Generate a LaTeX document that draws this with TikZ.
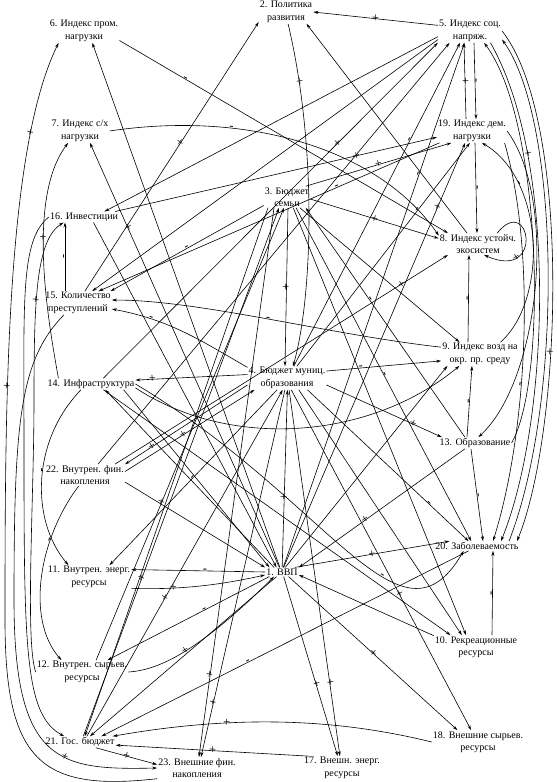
\documentclass[tikz,border=0pt]{standalone}
\usepackage{fontspec}
\setmainfont{Liberation Serif}
\usetikzlibrary{arrows.meta}
\begin{document}
\begin{tikzpicture}[x=1pt,y=-1pt,
  nd/.style={align=center,inner sep=1pt,font=\fontsize{10}{12.5}\selectfont},
  e/.style={-{Stealth[length=5pt,width=3pt]},line width=0.6pt},
  l/.style={font=\fontsize{12.5}{12.5}\selectfont,inner sep=0pt,sloped}]
\useasboundingbox[fill=white] (0,0) rectangle (557,782);
% nodes
\node[nd] (n1) at (282,572) {1. ВВП};
\node[nd] (n2) at (286,12) {2. Политика\\развития};
\node[nd] (n3) at (287,197) {3. Бюджет\\семьи};
\node[nd] (n4) at (287,378) {4. Бюджет муниц.\\образования};
\node[nd] (n5) at (470,31) {5. Индекс соц.\\напряж.};
\node[nd] (n6) at (84,31) {6. Индекс пром.\\нагрузки};
\node[nd] (n7) at (80,131) {7. Индекс с/х\\нагрузки};
\node[nd] (n8) at (478,244) {8. Индекс устойч.\\экосистем};
\node[nd] (n9) at (480,354) {9. Индекс возд на\\окр. пр. среду};
\node[nd] (n10) at (476,647) {10. Рекреационные\\ресурсы};
\node[nd] (n11) at (89,577) {11. Внутрен. энерг.\\ресурсы};
\node[nd] (n12) at (82,672) {12. Внутрен. сырьев.\\ресурсы};
\node[nd] (n13) at (475,443) {13. Образование};
\node[nd] (n14) at (91,384) {14. Инфраструктура};
\node[nd] (n15) at (78,303) {15. Количество\\преступлений};
\node[nd] (n16) at (84,217) {16. Инвестиции};
\node[nd] (n17) at (342,768) {17. Внешн. энерг.\\ресурсы};
\node[nd] (n18) at (478,742) {18. Внешние сырьев.\\ресурсы};
\node[nd] (n19) at (472,131) {19. Индекс дем.\\нагрузки};
\node[nd] (n20) at (477,546) {20. Заболеваемость};
\node[nd] (n21) at (80,742) {21. Гос. бюджет};
\node[nd] (n22) at (85,475) {22. Внутрен. фин.\\накопления};
\node[nd] (n23) at (197,768) {23. Внешние фин.\\накопления};

% top region
\draw[e] (n5.170) -- node[l]{+} (n2.east);
\draw[e] (n15.60) -- node[l,pos=.55]{+} (n2.-160);
\draw[e] (n8.135) -- (n2.-30);
\draw[e] (n2.-80) .. controls (318,150) and (312,300) .. node[l,pos=.15]{+} ([xshift=6pt]n4.north);
\draw[e] (n6.-15) -- node[l,pos=.2]{-} (n8.160);
\draw[e] (n7.east) .. controls (250,110) and (380,150) .. node[l,pos=.3]{-} (n8.168);
\draw[e] (n1.115) -- (n6.-55);
\draw[e] (n1.120) -- node[l,pos=.8]{+} (n7.-50);

% vertical links on the right
\draw[e] ([xshift=4pt]n5.south) -- node[l]{-} ([xshift=4pt]n19.north);
\draw[e] ([xshift=-6pt]n19.north) -- node[l]{+} ([xshift=-6pt]n5.south);
\draw[e] ([xshift=3pt]n19.south) -- node[l]{-} ([xshift=-1pt]n8.north);
\draw[e] ([xshift=-12pt]n9.north) -- node[l]{-} ([xshift=-9pt]n8.south);
\draw[e] ([xshift=-8pt]n13.north) -- node[l]{-} ([xshift=-8pt]n9.south);
\draw[e] ([xshift=-4pt]n13.south) -- node[l]{-} ([xshift=6pt]n20.north);
\draw[e] ([xshift=16pt]n10.north) -- node[l]{-} ([xshift=16pt]n20.south);
\draw[e] ([xshift=-20pt]n8.north east) .. controls (530,192) and (545,282) .. node[l,pos=.75]{+} ([xshift=6pt]n8.south);

% right-side curves
\draw[e] (n13.east) .. controls (548,380) and (542,120) .. (n5.-40);
\draw[e] (n5.-30) .. controls (558,160) and (550,420) .. node[l,pos=.25]{+} ([xshift=24pt]n20.north);
\draw[e] ([xshift=32pt]n20.north) .. controls (564,400) and (560,120) .. (n5.-15);
\draw[e] (n5.east) .. controls (572,120) and (562,430) .. node[l,pos=.62]{+} ([xshift=40pt]n20.north);
\draw[e] (n19.-20) .. controls (536,250) and (528,430) .. node[l,pos=.6]{-} ([xshift=16pt]n20.north);
\draw[e] (n9.30) .. controls (548,300) and (545,180) .. node[l,pos=.75]{-} (n19.-50);
\draw[e] (n19.east) .. controls (558,200) and (540,380) .. (n13.60);

% lines at 5 from the lower left
\draw[e] (n5.-170) -- (n16.15);
\draw[e] (n5.-165) -- (n15.40);
\draw[e] (n14.25) -- node[l,pos=.7]{+} (n5.-160);
\draw[e] (n22.40) -- (n5.-150);
\draw[e] (n4.60) -- node[l,pos=.7]{-} (n5.-130);
\draw[e] (n1.75) -- node[l,pos=.75]{-} (n5.-115);

% lines at 19
\draw[e] (n16.10) -- node[l,pos=.75]{+} (n19.190);
\draw[e] (n19.200) -- node[l,pos=.3]{-} (n15.30);
\draw[e] (n3.30) -- node[l,pos=.5]{+} (n19.210);
\draw[e] (n1.70) -- node[l,pos=.85]{+} (n19.-120);
\draw[e] (n4.50) -- node[l,pos=.7]{-} (n19.-100);

% lines at 3
\draw[e] (n3.-160) -- node[l,pos=.5]{-} (n15.20);
\draw[e] (n3.-5) -- node[l]{+} (n8.172);
\draw[e] ([xshift=1pt]n3.south) -- node[l]{+} ([xshift=-2pt]n4.north);
\draw[e] (n3.-40) -- (n9.150);
\draw[e] (n13.150) -- node[l,pos=.6]{-} (n3.-30);
\draw[e] (n3.-50) -- node[l,pos=.5]{-} (n20.140);
\draw[e] (n3.-60) -- (n10.130);
\draw[e] ([xshift=-19pt]n3.south) -- (n21.50);
\draw[e] ([xshift=-13pt]n3.south) -- node[l,pos=.85]{+} (n23.80);
\draw[e] (n21.60) -- node[l,pos=.3]{+} ([xshift=-8pt]n3.south);
\draw[e] (n12.40) -- node[l,pos=.35]{+} ([xshift=-3pt]n3.south);

% lines at 4
\draw[e] (n4.-170) -- node[l,pos=.78]{+} (n22.15);
\draw[e] (n22.5) -- node[l,pos=.45]{+} (n4.-160);
\draw[e] (n4.175) -- node[l,pos=.85]{+} (n14.5);
\draw[e] (n4.165) .. controls (200,340) and (170,320) .. node[l,pos=.75]{-} (n15.-10);
\draw[e] (n9.170) .. controls (330,335) and (200,300) .. node[l,pos=.5]{-} (n15.5);
\draw[e] (n4.10) -- node[l,pos=.3]{-} (n9.190);
\draw[e] (n4.-10) -- node[l,pos=.75]{+} (n13.170);
\draw[e] (n4.-30) -- node[l,pos=.75]{-} (n20.150);
\draw[e] (n4.-45) -- (n10.140);
\draw[e] (n1.88) -- node[l,pos=.4]{+} (n4.-88);
\draw[e] (n4.-130) -- node[l,pos=.5]{-} (n11.30);
\draw[e] (n21.40) -- node[l,pos=.4]{+} (n4.-110);
\draw[e] (n4.-100) -- node[l,pos=.85]{+} (n23.70);
\draw[e] (n4.-70) -- node[l,pos=.6]{+} (n18.120);
\draw[e] (n4.-80) -- node[l,pos=.8]{+} (n17.100);

% lines at 14
\draw[e] (n14.-10) -- (n1.160);
\draw[e] (n1.150) -- (n14.-22);
\draw[e] (n14.east) .. controls (330,500) and (400,660) .. node[l,pos=.62]{-} (n20.-160);
\draw[e] (n14.-5) .. controls (230,450) and (370,440) .. (n9.-150);
\draw[e] (n14.-25) -- (n10.155);
\draw[e] (n14.-150) .. controls (32,440) and (30,520) .. node[l,pos=.45]{-} (n11.150);

% lines at 22 and 16
\draw[e] (n22.-10) -- (n1.165);
\draw[e] (n22.-120) .. controls (38,540) and (26,620) .. node[l,pos=.3]{-} (n12.150);
\draw[e] (n22.20) -- node[l,pos=.86]{+} (n8.-160);
\draw[e] (n16.-30) -- (n1.140);
\draw[e] ([xshift=-13pt]n15.north) -- node[l]{-} ([xshift=-19pt]n16.south);

% left curves
\draw[e] (n23.-165) .. controls (40,792) and (5,760) .. (5,620)
   .. controls (5,400) and (6,150) .. node[l,pos=.35]{+} node[l,pos=.78]{+} (n6.-155);
\draw[e] (n15.-140) .. controls (20,360) and (14,420) .. (14,600)
   .. controls (14,765) and (60,770) .. node[l,pos=.6]{+} (n23.west);
\draw[e] (n16.west) .. controls (20,240) and (24,300) .. (24,450)
   .. controls (24,650) and (25,715) .. (n21.160);
\draw[e] (n12.west) .. controls (25,640) and (34,500) .. (34,400)
   .. controls (34,300) and (36,240) .. node[l,pos=.4]{+} (n16.-165);
\draw[e] (n14.170) .. controls (50,330) and (25,200) .. node[l,pos=.6]{+} (n7.-135);

% lower region
\draw[e] (n1.west) -- node[l,pos=.45]{-} (n11.10);
\draw[e] (n11.-15) .. controls (180,590) and (220,585) .. node[l,pos=.3]{+} (n1.-170);
\draw[e] (n1.-160) -- node[l,pos=.4]{-} (n12.25);
\draw[e] (n12.0) .. controls (160,670) and (200,650) .. node[l,pos=.5]{+} (n1.-150);
\draw[e] (n1.-140) -- (n21.30);
\draw[e] (n1.-70) -- node[l,pos=.6]{+} (n17.110);
\draw[e] (n1.-35) -- node[l,pos=.5]{+} (n18.150);
\draw[e] (n18.west) .. controls (350,722) and (250,712) .. node[l,pos=.7]{+} (n21.10);
\draw[e] (n17.160) -- node[l,pos=.5]{+} (n21.-5);
\draw[e] (n21.-20) -- node[l]{+} (n23.175);
\draw[e] (n20.-150) -- node[l,pos=.6]{-} (n21.15);
\draw[e] (n13.-150) -- node[l,pos=.6]{+} (n1.15);
\draw[e] (n1.20) -- node[l]{+} (n20.170);
\draw[e] (n10.165) -- (n1.-10);
\draw[e] (n1.55) -- (n9.-160);
\end{tikzpicture}
\end{document}
